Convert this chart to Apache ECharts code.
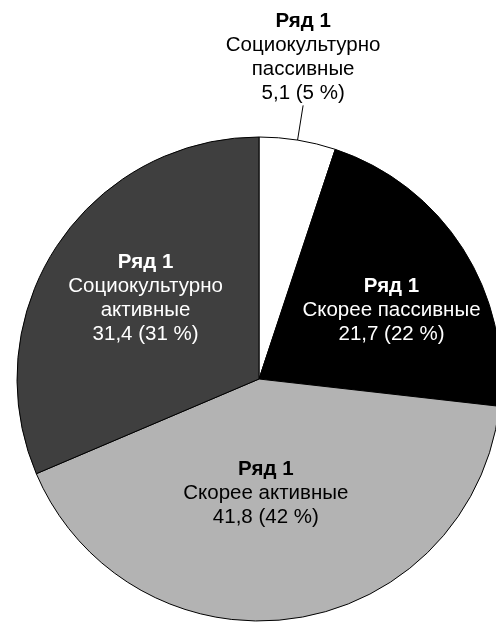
<!DOCTYPE html>
<html>
<head>
<meta charset="utf-8">
<script src="https://cdn.jsdelivr.net/npm/echarts@6/dist/echarts.min.js"></script>
<style>
  html, body { margin: 0; padding: 0; background: #fff; }
  #chart { width: 496px; height: 622px; }
</style>
</head>
<body>
<div id="chart"></div>
<script>
const seriesName = 'Ряд 1';
const categories = ['Социокультурно\nпассивные', 'Скорее пассивные', 'Скорее активные', 'Социокультурно\nактивные'];
const values = [5.1, 21.7, 41.8, 31.4];
const sliceColors = ['#ffffff', '#000000', '#b3b3b3', '#3f3f3f'];
const textColors = ['#000000', '#ffffff', '#000000', '#ffffff'];
const insideLabel = [false, true, true, true];
const labelShift = [[0, 0], [28, -2], [-11, -8], [-10, -12]];

const FONT = '"Liberation Sans", Arial, sans-serif';
const FS = 20.5;

function fmtValue(v) { return v.toFixed(1).replace('.', ','); }

function labelFormatter(p) {
  const lines = p.name.split('\n').map(s => '{n|' + s + '}');
  return ['{b|' + seriesName + '}'].concat(lines)
    .concat(['{n|' + fmtValue(p.value) + ' (' + Math.round(p.percent) + ' %)}']).join('\n');
}

function richFor(i) {
  return {
    b: { fontFamily: FONT, fontSize: FS, fontWeight: 'bold', lineHeight: 24, color: textColors[i] },
    n: { fontFamily: FONT, fontSize: FS, lineHeight: 24, color: textColors[i] }
  };
}

// main pie: slices + inside labels
const mainData = categories.map((name, i) => ({
  name: name,
  value: values[i],
  itemStyle: { color: sliceColors[i] },
  label: { show: insideLabel[i], position: 'inside', color: textColors[i], rich: richFor(i) }
}));

// overlay pie (transparent): carries the outside label with a leader line starting inside the slice
const overlayData = categories.map((name, i) => ({
  name: name,
  value: values[i],
  label: { show: !insideLabel[i], position: 'outside', color: textColors[i], rich: richFor(i) },
  labelLine: { show: !insideLabel[i] }
}));

const chart = echarts.init(document.getElementById('chart'), null, { renderer: 'canvas' });
chart.setOption({
  animation: false,
  backgroundColor: '#ffffff',
  series: [{
    type: 'pie',
    name: seriesName,
    center: [259, 379],
    radius: 242,
    startAngle: 90,
    clockwise: true,
    avoidLabelOverlap: false,
    itemStyle: { borderColor: '#000', borderWidth: 1 },
    emphasis: { disabled: true },
    label: { fontFamily: FONT, fontSize: FS, lineHeight: 24, align: 'center', formatter: labelFormatter },
    labelLine: { show: false },
    labelLayout: function (params) {
      const i = params.dataIndex;
      return { dx: labelShift[i][0], dy: labelShift[i][1] };
    },
    data: mainData
  }, {
    type: 'pie',
    name: seriesName,
    center: [259, 379],
    radius: 217,
    startAngle: 90,
    clockwise: true,
    silent: true,
    avoidLabelOverlap: false,
    itemStyle: { color: 'rgba(0,0,0,0)', borderWidth: 0 },
    emphasis: { disabled: true },
    label: { fontFamily: FONT, fontSize: FS, lineHeight: 24, align: 'center', formatter: labelFormatter },
    labelLine: { length: 47, length2: 0, lineStyle: { color: '#000', width: 1 } },
    labelLayout: function (params) {
      const p = params.labelLinePoints;
      if (!p) return {};
      const end = p[p.length - 1];
      return { x: end[0] + 2, y: end[1] - 13, align: 'center', verticalAlign: 'bottom' };
    },
    data: overlayData
  }]
});
</script>
</body>
</html>
